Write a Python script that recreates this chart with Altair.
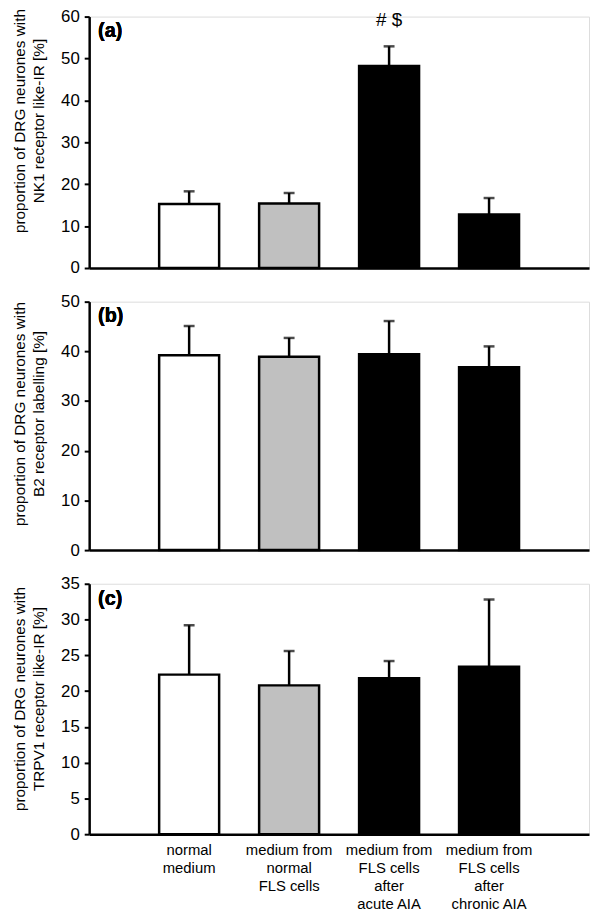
import altair as alt
import pandas as pd

categories = [
    "normal|medium",
    "medium from|normal|FLS cells",
    "medium from|FLS cells|after|acute AIA",
    "medium from|FLS cells|after|chronic AIA",
]
fills = ["#ffffff", "#c0c0c0", "#000000", "#000000"]

nk1_mean = [15.3, 15.4, 48.2, 12.8]
nk1_upper = [18.3, 17.9, 52.9, 16.7]
b2_mean = [39.2, 38.9, 39.4, 36.8]
b2_upper = [45.1, 42.7, 46.1, 41.0]
trpv1_mean = [22.3, 20.8, 21.8, 23.4]
trpv1_upper = [29.2, 25.6, 24.2, 32.8]

annotations = ["", "", "# $", ""]

FONT = "Liberation Sans"
W = 505


def panel(mean, upper, ymax, ystep, title_lines, tag, bottom, title_y, h, annot=None):
    df = pd.DataFrame({"cat": categories, "mean": mean, "upper": upper})
    if annot is not None:
        df["annot"] = annot
    xaxis = alt.Axis(
        labels=bottom,
        ticks=False,
        domain=True,
        domainColor="black",
        domainWidth=2.5,
        labelAngle=0,
        labelFont=FONT,
        labelFontSize=15,
        labelColor="black",
        labelLineHeight=18,
        labelPadding=9,
        labelExpr="split(datum.label, '|')",
        grid=False,
    )
    xscale = alt.Scale(paddingInner=0.4, paddingOuter=0.7)
    x = alt.X("cat:N", sort=categories, axis=xaxis, title=None, scale=xscale)
    yaxis = alt.Axis(
        values=list(range(0, ymax + 1, ystep)),
        grid=False,
        labelOverlap=False,
        domainColor="black",
        domainWidth=2.5,
        tickColor="black",
        tickWidth=2,
        tickSize=5,
        labelFont=FONT,
        labelFontSize=17,
        labelColor="black",
        labelPadding=5,
        titleFont=FONT,
        titleFontSize=15.5,
        titleFontWeight="normal",
        titleColor="black",
        titleLineHeight=19,
        titlePadding=14,
        titleY=title_y,
    )
    yscale = alt.Scale(domain=[0, ymax], nice=False, zero=True)
    base = alt.Chart(df)
    bars = base.mark_bar(stroke="black", strokeWidth=2.5).encode(
        x=x,
        y=alt.Y("mean:Q", axis=yaxis, title=title_lines, scale=yscale),
        fill=alt.Fill("cat:N", scale=alt.Scale(domain=categories, range=fills), legend=None),
    )
    err = base.mark_rule(color="black", strokeWidth=2.5).encode(
        x=x,
        y=alt.Y("mean:Q", axis=yaxis, title=title_lines, scale=yscale),
        y2="upper:Q",
    )
    cap = base.mark_tick(color="black", thickness=2.5, size=11, orient="horizontal").encode(
        x=x,
        y=alt.Y("upper:Q", axis=yaxis, title=title_lines, scale=yscale),
    )
    label = base.mark_text(
        text=tag, font=FONT, fontSize=20, fontWeight="bold", align="left",
        baseline="middle", color="black"
    ).encode(x=alt.value(9), y=alt.value(15))
    layers = [bars, err, cap, label]
    if annot is not None:
        ann = base.mark_text(
            font=FONT, fontSize=19, align="center", baseline="middle", color="black"
        ).encode(
            x=x,
            y=alt.value(4),
            text="annot:N",
        )
        layers.append(ann)
    return alt.layer(*layers).properties(width=W, height=h)


pa = panel(nk1_mean, nk1_upper, 60, 10,
           ["proportion of DRG neurones with", "NK1 receptor like-IR [%]"],
           "(a)", False, 105, 254, annotations)
pb = panel(b2_mean, b2_upper, 50, 10,
           ["proportion of DRG neurones with", "B2 receptor labelling [%]"],
           "(b)", False, 113, 251)
pc = panel(trpv1_mean, trpv1_upper, 35, 5,
           ["proportion of DRG neurones with", "TRPV1 receptor like-IR [%]"],
           "(c)", True, 116, 253)

chart = alt.vconcat(pa, pb, pc, spacing=34, bounds="flush").properties(
    padding={"top": -6, "left": 4, "right": 2, "bottom": 2}
).configure_view(stroke=None).configure(background="white")

chart.save("out.html", embed_options={"renderer": "svg", "actions": False})
